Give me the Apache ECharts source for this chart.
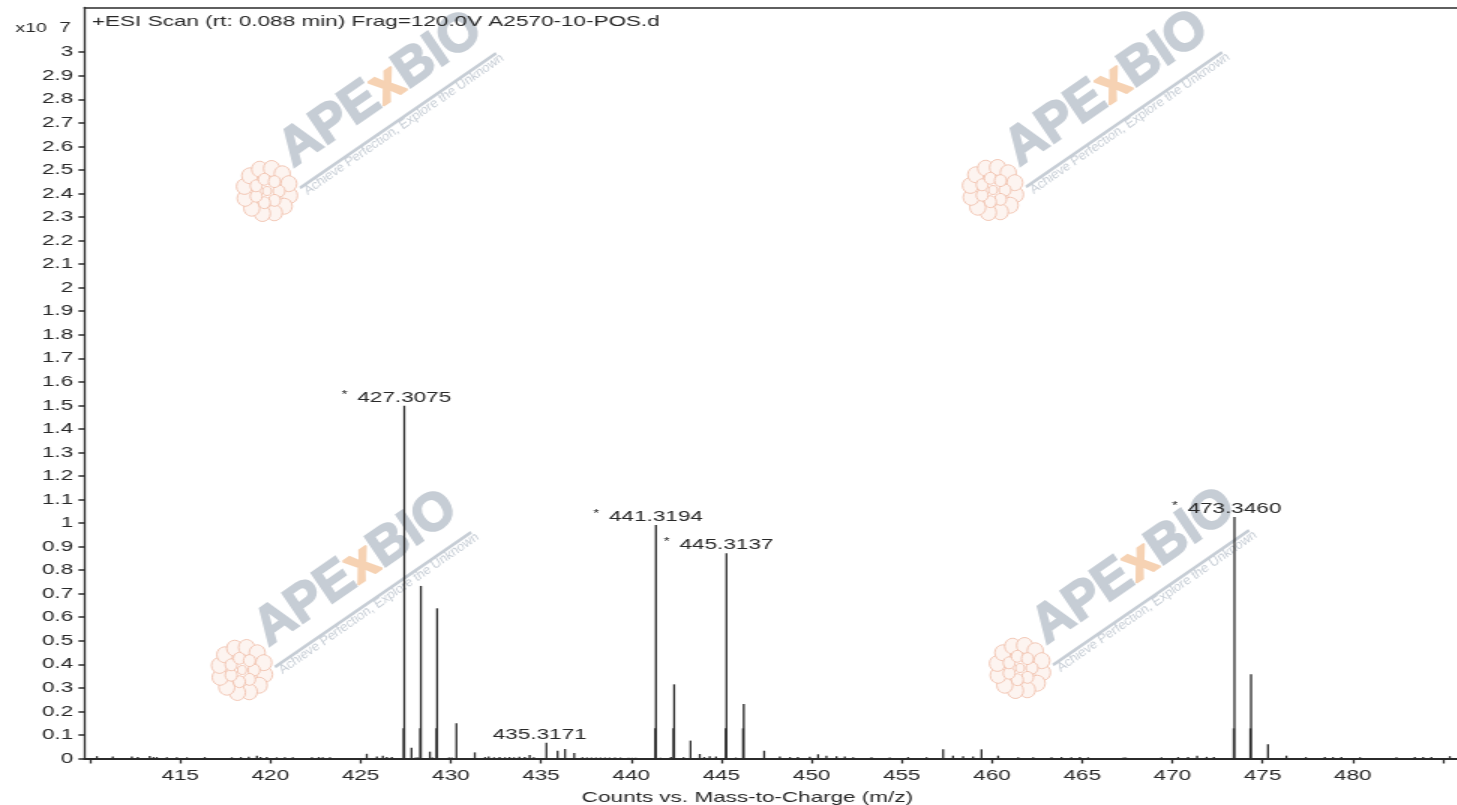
<!DOCTYPE html>
<html>
<head>
<meta charset="utf-8">
<script src="https://cdn.jsdelivr.net/npm/echarts@6/dist/echarts.min.js"></script>
<style>
html,body{margin:0;padding:0;background:#fff;overflow:hidden;}
#wrap{width:1457px;height:805px;overflow:hidden;position:relative;background:#fff;}
#chart{width:971px;height:805px;transform:scaleX(1.5);transform-origin:0 0;}
</style>
</head>
<body>
<div id="wrap"><div id="chart"></div></div>
<script>
// ---------- data (intensity in units of 1e7 counts) ----------
const peakMz = [
  410.38, 411.26, 412.32, 412.65, 413.31, 413.52, 413.70, 414.26, 414.81, 415.37,
  416.36, 417.86, 418.36, 418.80, 419.25, 419.45, 419.80, 420.35, 420.80, 421.24,
  422.30, 422.68, 422.90, 423.30, 425.34, 425.90, 426.23, 426.45, 426.73,
  427.42, 427.82, 428.05, 428.18, 428.34, 428.84, 428.97, 429.24, 429.90, 430.05,
  430.31, 431.33, 431.90, 432.10, 432.40, 432.70, 433.00, 433.25, 433.50, 433.80,
  434.10, 434.37, 434.60, 435.30, 435.92, 436.33, 436.84, 437.30, 437.55, 437.80,
  438.05, 438.30, 438.55, 438.80, 439.10, 439.40, 439.85, 440.05, 440.25,
  441.37, 441.62, 442.20, 442.38, 442.90, 443.29, 443.80, 444.05, 444.35, 444.70,
  445.28, 445.80, 446.24, 447.37, 448.24, 448.80, 449.24, 449.90, 450.36, 450.82,
  451.38, 451.84, 452.30, 453.32, 454.33, 455.35, 456.37, 457.29, 457.84, 458.40,
  458.95, 459.42, 460.34, 461.45, 462.28, 463.30, 463.85, 464.40, 464.87, 465.33,
  467.30, 467.42, 469.40, 470.32, 470.87, 471.37, 471.90, 472.30,
  473.44, 474.36, 475.30, 476.32, 477.40, 478.45, 478.90, 479.37, 480.40, 482.42,
  483.44, 483.90, 484.36, 485.38
];
const peakIntensity = [
  0.010, 0.009, 0.008, 0.006, 0.011, 0.006, 0.006, 0.005, 0.005, 0.005,
  0.006, 0.005, 0.006, 0.007, 0.012, 0.006, 0.006, 0.005, 0.005, 0.005,
  0.005, 0.006, 0.005, 0.005, 0.020, 0.008, 0.012, 0.006, 0.006,
  1.498, 0.046, 0.004, 0.004, 0.733, 0.029, 0.004, 0.638, 0.004, 0.004,
  0.150, 0.026, 0.006, 0.008, 0.005, 0.006, 0.005, 0.006, 0.005, 0.007,
  0.006, 0.015, 0.005, 0.067, 0.033, 0.040, 0.023, 0.005, 0.004, 0.004,
  0.004, 0.004, 0.004, 0.004, 0.004, 0.004, 0.003, 0.003, 0.003,
  0.992, 0.003, 0.006, 0.315, 0.005, 0.076, 0.019, 0.006, 0.010, 0.008,
  0.872, 0.004, 0.232, 0.033, 0.008, 0.006, 0.006, 0.007, 0.018, 0.012,
  0.010, 0.008, 0.005, 0.005, 0.004, 0.006, 0.005, 0.039, 0.012, 0.010,
  0.008, 0.039, 0.012, 0.005, 0.005, 0.005, 0.006, 0.005, 0.006, 0.005,
  0.004, 0.004, 0.005, 0.006, 0.006, 0.012, 0.007, 0.006,
  1.026, 0.358, 0.060, 0.012, 0.006, 0.006, 0.006, 0.006, 0.005, 0.005,
  0.006, 0.006, 0.006, 0.010
];
// lower "profile" part visible at the base of the main peaks
const shoulderMz = [427.38, 428.30, 429.20, 441.33, 442.34, 445.24, 446.20, 473.40, 474.32];
const shoulderIntensity = [0.128, 0.128, 0.128, 0.128, 0.128, 0.128, 0.128, 0.128, 0.128];

const labelMz = [427.42, 441.37, 445.28, 473.44, 435.30];
const labelIntensity = [1.498, 0.992, 0.872, 1.026, 0.067];
const labelText = ['427.3075', '441.3194', '445.3137', '473.3460', '435.3171'];
const labelStar = [true, true, true, true, false];
const labelShift = [0, 0, 0, 0, -4.5];

const xTickValues = [410, 415, 420, 425, 430, 435, 440, 445, 450, 455, 460, 465, 470, 475, 480, 485];
const xLabelValues = [415, 420, 425, 430, 435, 440, 445, 450, 455, 460, 465, 470, 475, 480];
const yTickValues = [0, 0.1, 0.2, 0.3, 0.4, 0.5, 0.6, 0.7, 0.8, 0.9, 1, 1.1, 1.2, 1.3, 1.4, 1.5,
  1.6, 1.7, 1.8, 1.9, 2, 2.1, 2.2, 2.3, 2.4, 2.5, 2.6, 2.7, 2.8, 2.9, 3];

const titleText = '+ESI Scan (rt: 0.088 min) Frag=120.0V A2570-10-POS.d';
const xAxisTitle = 'Counts vs. Mass-to-Charge (m/z)';

// ---------- layout ----------
const S = 1.5; // horizontal stretch of the whole picture
const FONT = '"Liberation Sans", Arial, Helvetica, sans-serif';
const INK = '#2b2b2b';
const TXT = '#282828';

const mctx = document.createElement('canvas').getContext('2d');
function tw(text, size, weight) {
  mctx.font = (weight || 'normal') + ' ' + size + 'px ' + FONT;
  return mctx.measureText(text).width;
}

function watermark(sx, sy) {
  const gray = '#c6cdd5', orange = '#f6d2b3';
  const big = 53;
  const wA = tw('APE', big, 'bold'), wX = tw('x', big, 'bold');
  const fst = { fill: '#fdf4f0', stroke: '#f1bfab', lineWidth: 1 };
  const flower = [];
  for (let k = 0; k < 12; k++) {
    const a = k * Math.PI / 6 + 0.2;
    flower.push({ type: 'circle', shape: { cx: 23 * Math.cos(a), cy: 23 * Math.sin(a), r: 8 }, style: fst });
  }
  for (let k = 0; k < 7; k++) {
    const a = k * 2 * Math.PI / 7;
    flower.push({ type: 'circle', shape: { cx: 12 * Math.cos(a), cy: 12 * Math.sin(a), r: 6 }, style: fst });
  }
  flower.push({ type: 'circle', shape: { cx: 0, cy: 0, r: 4.5 }, style: fst });
  const bigStyle = (t, c) => ({ text: t, fill: c, stroke: c, lineWidth: 2, fontSize: big, fontWeight: 'bold', fontFamily: FONT, align: 'left', verticalAlign: 'middle' });
  return {
    type: 'group', x: sx / S, y: sy, scaleX: 1 / S, z: 0, silent: true,
    children: [
      { type: 'group', x: -33, y: 3, children: flower },
      {
        type: 'group', rotation: 34.5 * Math.PI / 180,
        children: [
          { type: 'line', shape: { x1: 0, y1: 0, x2: 238, y2: 0 }, style: { stroke: gray, lineWidth: 3 } },
          { type: 'text', x: 6, y: -35, style: bigStyle('APE', gray) },
          { type: 'text', x: 6 + wA, y: -35, style: bigStyle('x', orange) },
          { type: 'text', x: 6 + wA + wX, y: -35, style: bigStyle('BIO', gray) },
          { type: 'text', x: 2, y: 6.5, style: { text: 'Achieve Perfection, Explore the Unknown', fill: gray, fontSize: 13, fontFamily: FONT, align: 'left', verticalAlign: 'middle' } }
        ]
      }
    ]
  };
}

const chart = echarts.init(document.getElementById('chart'), null, { width: 971, height: 805, renderer: 'canvas' });

const xMin = 409.69, xMax = 485.75, yMax = 3.19;

const option = {
  animation: false,
  backgroundColor: '#ffffff',
  grid: { left: 56.3, right: 0, top: 7.5, bottom: 46.5 },
  xAxis: [{
    type: 'value', min: xMin, max: xMax, position: 'bottom',
    axisLine: { show: true, onZero: false, lineStyle: { color: INK, width: 2 } },
    axisTick: { show: true, length: 5, customValues: xTickValues, lineStyle: { color: INK, width: 1.3 } },
    axisLabel: { show: true, customValues: xLabelValues, margin: 10, color: TXT, fontSize: 15, fontFamily: FONT, formatter: v => String(v) },
    splitLine: { show: false }
  }, {
    type: 'value', min: xMin, max: xMax, position: 'top',
    axisLine: { show: true, onZero: false, lineStyle: { color: INK, width: 1.5 } },
    axisTick: { show: false }, axisLabel: { show: false }, splitLine: { show: false }
  }],
  yAxis: {
    type: 'value', min: 0, max: yMax,
    axisLine: { show: true, onZero: false, lineStyle: { color: INK, width: 1.33 } },
    axisTick: { show: true, length: 4, customValues: yTickValues, lineStyle: { color: INK, width: 1.5 } },
    axisLabel: { show: true, customValues: yTickValues, margin: 7.5, color: TXT, fontSize: 15, fontFamily: FONT,
      formatter: v => String(Math.round(v * 10) / 10) },
    splitLine: { show: false }
  },
  graphic: [
    watermark(300, 188), watermark(1026, 187), watermark(275, 667), watermark(1053, 665),
    { type: 'text', x: 61.3, y: 22, z: 10, style: { text: titleText, fill: TXT, fontSize: 15, fontFamily: FONT, align: 'left', verticalAlign: 'middle' } },
    { type: 'text', x: 31.3, y: 28.5, z: 10, style: { text: 'x10', fill: TXT, fontSize: 13, fontFamily: FONT, align: 'right', verticalAlign: 'middle' } },
    { type: 'text', x: 43.3, y: 27.8, z: 10, style: { text: '7', fill: TXT, fontSize: 14, fontFamily: FONT, align: 'center', verticalAlign: 'middle' } },
    { type: 'text', x: 498.3, y: 798, z: 10, style: { text: xAxisTitle, fill: TXT, fontSize: 15, fontFamily: FONT, align: 'center', verticalAlign: 'middle' } }
  ],
  series: [{
    type: 'custom', name: 'peaks', xAxisIndex: 0, yAxisIndex: 0, clip: false, z: 3,
    data: peakMz.map((m, i) => [m, peakIntensity[i]]).concat(shoulderMz.map((m, i) => [m, shoulderIntensity[i]])),
    encode: { x: 0, y: 1 },
    renderItem: function (params, api) {
      const p0 = api.coord([api.value(0), 0]);
      const p1 = api.coord([api.value(0), api.value(1)]);
      return { type: 'line', shape: { x1: p0[0], y1: p0[1], x2: p1[0], y2: p1[1] }, style: { stroke: INK, lineWidth: 1.3 } };
    }
  }, {
    type: 'custom', name: 'labels', xAxisIndex: 0, yAxisIndex: 0, clip: false, z: 4,
    data: labelMz.map((m, i) => [m, labelIntensity[i]]),
    encode: { x: 0, y: 1 },
    renderItem: function (params, api) {
      const i = params.dataIndex;
      const p = api.coord([api.value(0), api.value(1)]);
      const cx = p[0] + labelShift[i];
      const children = [{
        type: 'text', x: cx, y: p[1] - 8,
        style: { text: labelText[i], fill: TXT, fontSize: 15, fontFamily: FONT, align: 'center', verticalAlign: 'middle' }
      }];
      if (labelStar[i]) {
        const w = tw(labelText[i], 15);
        children.push({
          type: 'text', x: cx - w / 2 - 8.5, y: p[1] - 10.5,
          style: { text: '*', fill: TXT, fontSize: 10, fontFamily: FONT, align: 'center', verticalAlign: 'middle' }
        });
      }
      return { type: 'group', children: children };
    }
  }]
};
chart.setOption(option);
</script>
</body>
</html>
